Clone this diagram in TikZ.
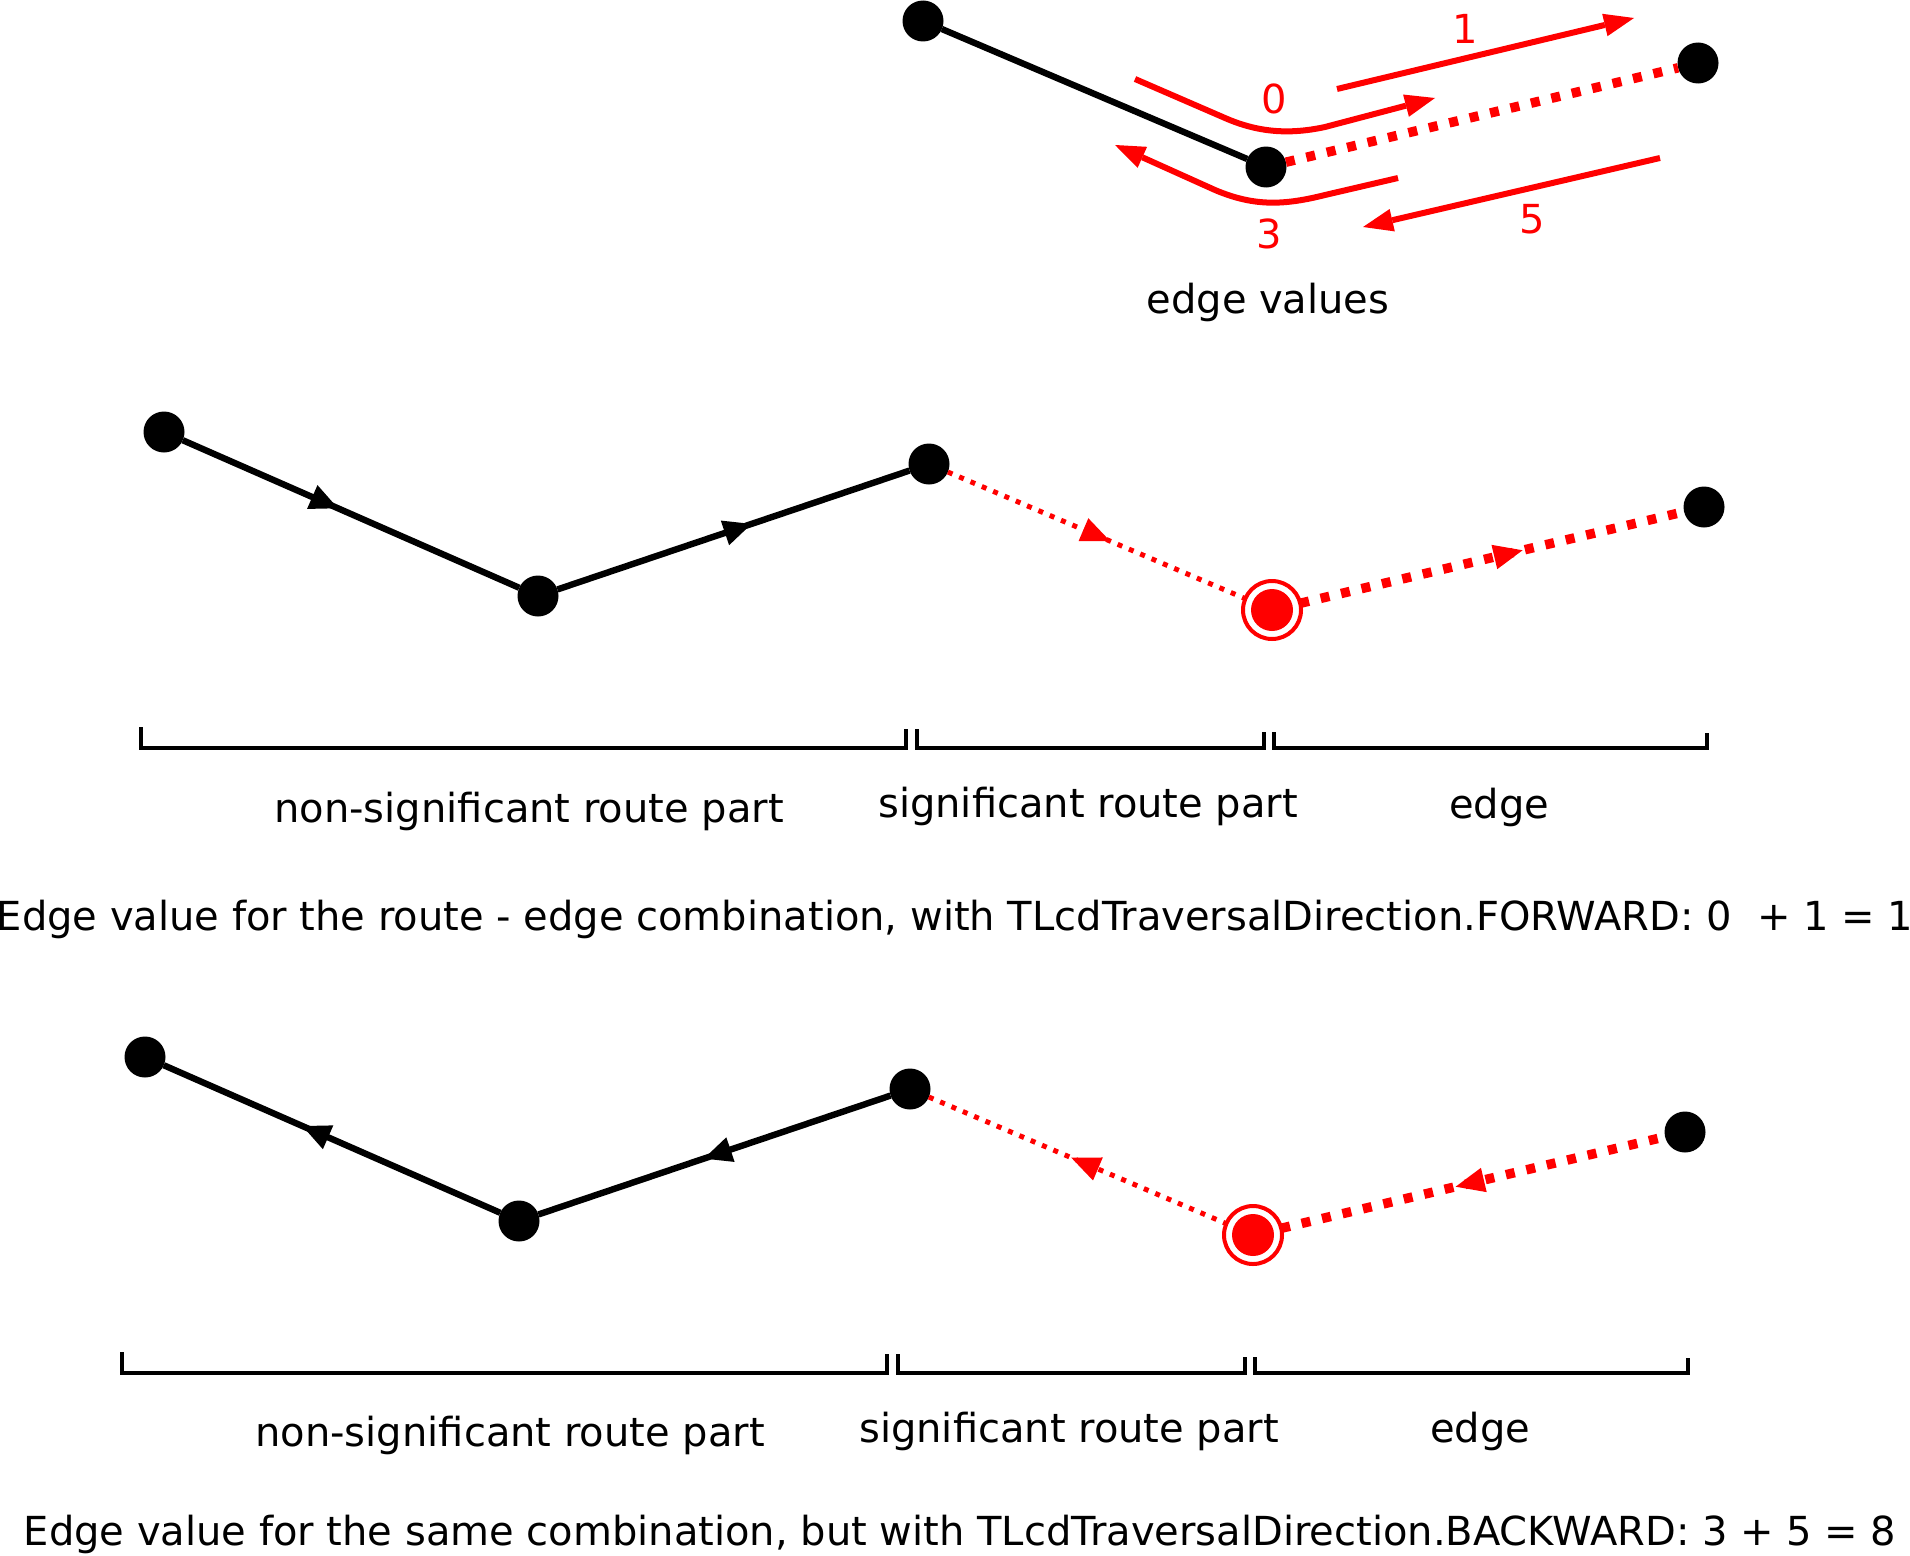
\documentclass[tikz,border=0pt]{standalone}
\usepackage{fontspec}
\setmainfont{DejaVu Sans}
\usetikzlibrary{arrows.meta,calc}
\begin{document}
\begin{tikzpicture}[x=1pt,y=-1pt,
  every node/.style={font=\fontsize{40}{48}\selectfont},
  bdot/.style={circle,fill=black,minimum size=41pt,inner sep=0pt,outer sep=0pt},
  rring/.style={circle,draw=red,line width=4pt,minimum size=58pt,inner sep=0pt,outer sep=0pt},
  rfill/.style={circle,fill=red,minimum size=42pt,inner sep=0pt,outer sep=0pt},
  bedge/.style={draw=black,line width=6.4pt},
  thindot/.style={draw=red,line width=5pt,dash pattern=on 5pt off 7.3pt},
  thickdot/.style={draw=red,line width=9.5pt,dash pattern=on 9pt off 12pt},
  rarrow/.style={draw=red,line width=6pt,-{Triangle[length=30pt,width=23pt,line width=0pt]}},
  brack/.style={draw=black,line width=4pt,line join=miter},
  lbl/.style={anchor=base,inner sep=0pt},
  digit/.style={text=red,inner sep=0pt,anchor=center},
  tipb/.style={draw=black,line width=0.5pt,-{Triangle[length=28pt,width=26pt,line width=0pt]}},
  tipr/.style={draw=red,line width=0.5pt,-{Triangle[length=29pt,width=25pt,line width=0pt]}},
]
\useasboundingbox (0,0) rectangle (1910,1555);

% ---------- top: edge values ----------
\node[bdot] (ta) at (923,21) {};
\node[bdot] (tb) at (1266,167) {};
\node[bdot] (tc) at (1698,63) {};
\draw[bedge] (ta) -- (tb);
\draw[thickdot] (tb) -- (tc);

\coordinate (r1s) at (1337,89);
\coordinate (r1e) at (1634,18);
\draw[rarrow] (r1s) -- (r1e);
\node[digit] (l1) at (1465,29) {1};

\coordinate (r0s) at (1135,79);
\coordinate (r0e) at (1435,98);
\draw[rarrow] (r0s) -- (1225,118) .. controls (1257,132) and (1288,135) .. (1325,127) -- (r0e);
\node[digit] (l0) at (1274,99) {0};

\coordinate (r3s) at (1398,178);
\coordinate (r3e) at (1115,145);
\draw[rarrow] (r3s) -- (1325,195) .. controls (1285,205) and (1255,207) .. (1215,190) -- (r3e);
\node[digit] (l3) at (1269,234) {3};

\coordinate (r5s) at (1660,158);
\coordinate (r5e) at (1363,227);
\draw[rarrow] (r5s) -- (r5e);
\node[digit] (l5) at (1532,219) {5};

\node[lbl] (ev) at (1268,313) {edge values};

% ---------- middle: FORWARD ----------
\node[bdot] (m1) at (164,432) {};
\node[bdot] (m2) at (538,596) {};
\node[bdot] (m3) at (929,464) {};
\node[rring] (m4) at (1272,610) {};
\node[rfill] (m4in) at (m4) {};
\node[bdot] (m5) at (1704,507) {};
\draw[bedge] (m1) -- (m2);
\draw[bedge] (m2) -- (m3);
\draw[thindot] (m3) -- (m4);
\draw[thickdot] (m4) -- (m5);

\coordinate (tm1) at ($(m1)!0.465!(m2)$);
\draw[tipb] ($(tm1)!28pt!(m1)$) -- (tm1);
\coordinate (tm2) at ($(m2)!0.546!(m3)$);
\draw[tipb] ($(tm2)!28pt!(m2)$) -- (tm2);
\coordinate (tm3) at ($(m3)!0.528!(m4)$);
\draw[tipr] ($(tm3)!29pt!(m3)$) -- (tm3);
\coordinate (tm4) at ($(m4)!0.58!(m5)$);
\draw[tipr] ($(tm4)!29pt!(m4)$) -- (tm4);

\draw[brack] (141,727) -- (141,748) -- (906,748) -- (906,729);
\draw[brack] (917,729) -- (917,748) -- (1264,748) -- (1264,732);
\draw[brack] (1274,732) -- (1274,748) -- (1707,748) -- (1707,733);

\node[lbl] (mt1) at (529,822) {non-significant route part};
\node[lbl] (mt2) at (1088,817) {significant route part};
\node[lbl] (mt3) at (1499,818) {edge};

\node[lbl] (cap1) at (955,930) {Edge value for the route - edge combination, with TLcdTraversalDirection.FORWARD: 0~ + 1 = 1};

% ---------- bottom: BACKWARD ----------
\node[bdot] (b1) at (145,1057) {};
\node[bdot] (b2) at (519,1221) {};
\node[bdot] (b3) at (910,1089) {};
\node[rring] (b4) at (1253,1235) {};
\node[rfill] (b4in) at (b4) {};
\node[bdot] (b5) at (1685,1132) {};
\draw[bedge] (b1) -- (b2);
\draw[bedge] (b2) -- (b3);
\draw[thindot] (b3) -- (b4);
\draw[thickdot] (b4) -- (b5);

\coordinate (tb1) at ($(b1)!0.421!(b2)$);
\draw[tipb] ($(tb1)!28pt!(b2)$) -- (tb1);
\coordinate (tb2) at ($(b2)!0.473!(b3)$);
\draw[tipb] ($(tb2)!28pt!(b3)$) -- (tb2);
\coordinate (tb3) at ($(b3)!0.47!(b4)$);
\draw[tipr] ($(tb3)!29pt!(b4)$) -- (tb3);
\coordinate (tb4) at ($(b4)!0.469!(b5)$);
\draw[tipr] ($(tb4)!29pt!(b5)$) -- (tb4);

\draw[brack] (122,1352) -- (122,1373) -- (887,1373) -- (887,1354);
\draw[brack] (898,1354) -- (898,1373) -- (1245,1373) -- (1245,1357);
\draw[brack] (1255,1357) -- (1255,1373) -- (1688,1373) -- (1688,1358);

\node[lbl] (bt1) at (510,1446) {non-significant route part};
\node[lbl] (bt2) at (1069,1442) {significant route part};
\node[lbl] (bt3) at (1480,1442) {edge};

\node[lbl] (cap2) at (960,1545) {Edge value for the same combination, but with TLcdTraversalDirection.BACKWARD: 3 + 5 = 8};
\end{tikzpicture}
\end{document}
